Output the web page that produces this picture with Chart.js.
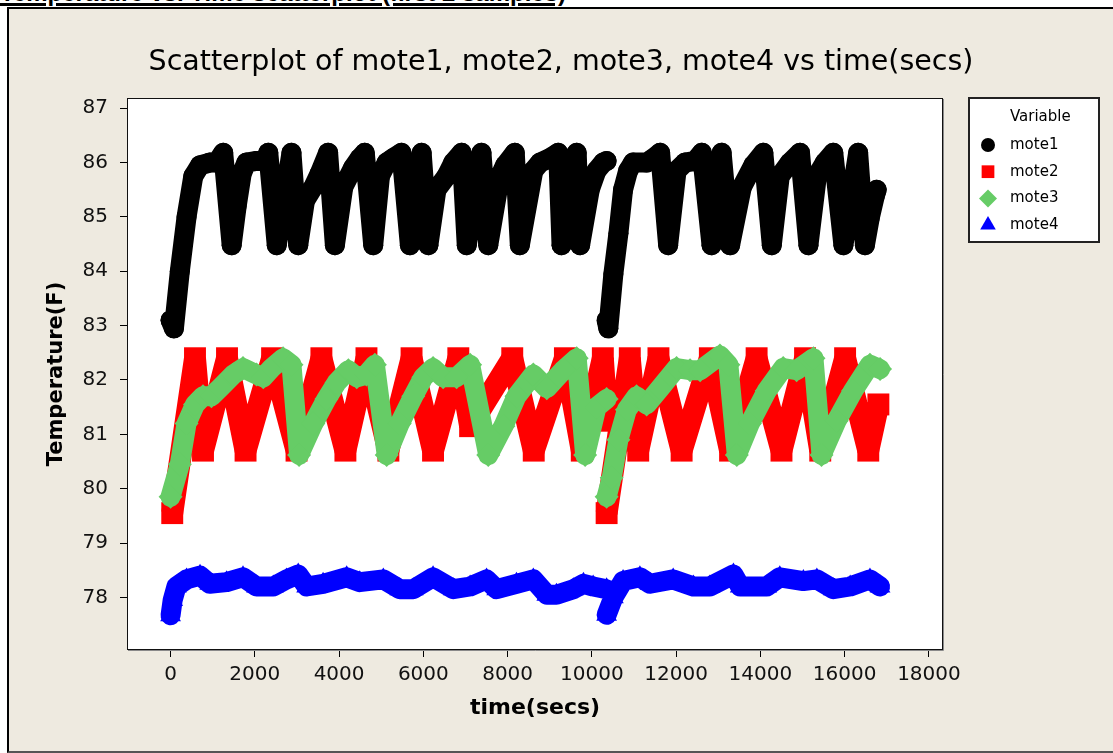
<!DOCTYPE html>
<html>
<head>
<meta charset="utf-8">
<script src="https://cdn.jsdelivr.net/npm/chart.js@4.4.1/dist/chart.umd.min.js"></script>
<style>
  html, body { margin: 0; padding: 0; background: #fff; overflow: hidden; }
  #header {
    position: absolute; left: 0; top: -19px; white-space: nowrap;
    font: bold 24px "Liberation Sans", Arial, sans-serif; line-height: 24px; color: #000;
    text-decoration: underline; text-decoration-thickness: 3px; text-underline-offset: 2px;
  }
  #panel {
    position: absolute; left: 7px; top: 7px; width: 1106px; height: 742px;
    background: #EEEAE0; border-left: 2px solid #000; border-top: 2px solid #000;
    border-bottom: 2px solid #555;
  }
  #wrap { position: absolute; left: 0; top: 0; width: 1104px; height: 742px; }
</style>
</head>
<body>
<div id="header">Temperature vs. Time scatterplot (first 2 samples)</div>
<div id="panel"><div id="wrap"><canvas id="chart" width="1104" height="742"></canvas></div></div>
<script>
// [time in secs, temperature F]; two runs per mote
var mote1Run1 = [[0,83.1],[80,82.95],[220,84.0],[380,85.0],[540,85.75],[700,85.95],[930,86.0],[1090,86.0],[1250,86.18],[1450,84.48],[1570,85.2],[1690,85.8],[1800,86.0],[2040,86.03],[2240,86.03],[2320,86.18],[2520,84.48],[2870,86.18],[3030,84.48],[3190,85.3],[3390,85.55],[3540,85.8],[3740,86.18],[3900,84.48],[4100,85.55],[4330,85.9],[4490,86.08],[4610,86.18],[4810,84.48],[4970,85.75],[5130,86.0],[5280,86.08],[5480,86.18],[5680,84.48],[5960,86.18],[6120,84.48],[6310,85.5],[6550,85.75],[6710,86.0],[6910,86.18],[7030,84.48],[7380,86.18],[7540,84.48],[7820,85.75],[7940,85.95],[8170,86.18],[8290,84.48],[8610,85.85],[8770,86.0],[9000,86.08],[9200,86.18],[9280,84.48],[9640,86.18],[9720,84.48],[9950,85.5],[10110,85.85],[10270,86.0],[10350,86.03]];
var mote1Run2 = [[10350,83.1],[10390,82.95],[10510,83.95],[10630,84.7],[10740,85.5],[10860,85.85],[10980,86.0],[11300,86.0],[11460,86.08],[11620,86.18],[11810,84.48],[12010,85.85],[12210,86.0],[12450,86.03],[12610,86.18],[12840,84.48],[13080,86.18],[13280,84.48],[13560,85.55],[13830,85.95],[14070,86.18],[14270,84.48],[14460,85.75],[14700,86.0],[14940,86.18],[15140,84.48],[15340,85.75],[15530,86.0],[15730,86.18],[15970,84.48],[16320,86.18],[16480,84.48],[16600,85.0],[16720,85.4],[16760,85.5]];

var mote2Run1 = [[40,79.55],[580,82.4],[770,80.7],[1340,82.4],[1780,80.7],[2410,82.4],[2990,80.7],[3580,82.4],[4150,80.7],[4650,82.4],[5170,80.7],[5720,82.4],[6230,80.7],[6830,82.4],[7110,81.15],[8110,82.4],[8620,80.7],[9360,82.4],[9760,80.7],[10260,82.4],[10360,81.25]];
var mote2Run2 = [[10350,79.55],[10900,82.4],[11100,80.7],[11580,82.4],[12130,80.7],[12800,82.4],[13280,80.7],[13910,82.4],[14500,80.7],[15060,82.4],[15420,80.7],[16010,82.4],[16560,80.7],[16800,81.55]];

var mote3Run1 = [[0,79.85],[220,80.45],[380,81.2],[580,81.55],[770,81.7],[970,81.7],[1170,81.85],[1490,82.1],[1720,82.22],[2040,82.1],[2200,82.05],[2400,82.22],[2670,82.4],[2870,82.28],[3050,80.62],[3390,81.2],[3700,81.65],[3940,81.95],[4220,82.18],[4420,82.05],[4650,82.1],[4850,82.28],[5130,80.62],[5440,81.2],[5760,81.7],[6000,82.05],[6230,82.22],[6470,82.05],[6790,82.05],[7110,82.28],[7540,80.62],[7900,81.15],[8210,81.7],[8610,82.1],[8930,81.85],[9320,82.18],[9640,82.4],[9840,80.62],[10110,81.5],[10350,81.65]];
var mote3Run2 = [[10350,79.85],[10470,80.2],[10630,80.9],[10830,81.45],[11060,81.7],[11300,81.55],[11620,81.85],[12010,82.22],[12330,82.18],[12570,82.18],[13040,82.45],[13240,82.28],[13440,80.62],[13750,81.2],[14150,81.8],[14540,82.22],[14860,82.18],[15260,82.4],[15450,80.62],[15810,81.25],[16200,81.8],[16600,82.28],[16840,82.2]];

var mote4Run1 = [[0,77.67],[50,77.95],[140,78.2],[380,78.33],[700,78.4],[930,78.25],[1330,78.28],[1720,78.37],[2040,78.2],[2440,78.2],[2750,78.33],[3030,78.42],[3230,78.2],[3620,78.25],[4180,78.37],[4490,78.28],[5050,78.33],[5440,78.15],[5760,78.15],[6230,78.37],[6710,78.15],[7110,78.2],[7500,78.33],[7740,78.15],[8210,78.25],[8610,78.33],[8930,78.05],[9160,78.05],[9560,78.15],[9800,78.25],[10030,78.2],[10350,78.15]];
var mote4Run2 = [[10350,77.68],[10510,78.0],[10740,78.3],[11140,78.37],[11380,78.25],[11930,78.33],[12410,78.2],[12800,78.2],[13360,78.42],[13520,78.2],[14150,78.2],[14460,78.37],[15020,78.3],[15340,78.33],[15730,78.15],[16130,78.2],[16600,78.33],[16840,78.2]];

var moteNames = ["mote1", "mote2", "mote3", "mote4"];
var moteColors = ["#000000", "#FF0000", "#66CC66", "#0000FF"];
var xTicks = [0, 2000, 4000, 6000, 8000, 10000, 12000, 14000, 16000, 18000];
var yTicks = [78, 79, 80, 81, 82, 83, 84, 85, 86, 87];

// both runs in one dataset, with a null point so the line breaks between them
function joinRuns(a, b) {
    var out = a.map(function (p) { return { x: p[0], y: p[1] }; });
    out.push({ x: a[a.length - 1][0], y: null });
    return out.concat(b.map(function (p) { return { x: p[0], y: p[1] }; }));
}

var legendRadius = [7, 9, 9, 9];

// white plot box with a dark frame
var plotFrame = {
    id: 'plotFrame',
    beforeDraw: function (chart) {
        var a = chart.chartArea, ctx = chart.ctx;
        ctx.save();
        ctx.fillStyle = '#fff';
        ctx.fillRect(a.left, a.top, a.right - a.left, a.bottom - a.top);
        ctx.restore();
    },
    afterDatasetsDraw: function (chart) {
        var a = chart.chartArea, ctx = chart.ctx;
        ctx.save();
        ctx.strokeStyle = '#111';
        ctx.lineWidth = 1;
        ctx.strokeRect(a.left - 0.5, a.top - 0.5, a.right - a.left + 1, a.bottom - a.top + 1);
        ctx.strokeStyle = '#8a8a8a';
        ctx.beginPath();
        ctx.moveTo(a.right + 1.5, a.top);
        ctx.lineTo(a.right + 1.5, a.bottom + 1.5);
        ctx.lineTo(a.left, a.bottom + 1.5);
        ctx.stroke();
        ctx.restore();
    }
};

// Minitab style boxed legend at the right of the plot
var boxLegend = {
    id: 'boxLegend',
    afterDraw: function (chart) {
        var ctx = chart.ctx, a = chart.chartArea;
        var x = a.right + 27, y = a.top - 1, w = 130, h = 144;
        ctx.save();
        ctx.fillStyle = '#fff';
        ctx.fillRect(x, y, w, h);
        ctx.strokeStyle = '#222';
        ctx.lineWidth = 2;
        ctx.strokeRect(x, y, w, h);
        ctx.font = '15px "DejaVu Sans"';
        ctx.textBaseline = 'middle';
        ctx.textAlign = 'left';
        ctx.fillStyle = '#000';
        ctx.fillText('Variable', x + 41, y + 19);
        chart.data.datasets.forEach(function (ds, i) {
            var cy = y + 47 + i * 26.7;
            ctx.fillStyle = ds.backgroundColor;
            ctx.strokeStyle = ds.borderColor;
            Chart.helpers.drawPoint(ctx, { pointStyle: ds.pointStyle, radius: legendRadius[i], borderWidth: 0, rotation: 0 }, x + 19, cy);
            ctx.fillStyle = '#000';
            ctx.fillText(ds.label, x + 41, cy);
        });
        ctx.restore();
    }
};

var tickFont = { family: 'DejaVu Sans', size: 20 };

function moteSet(i, run1, run2, width, radius, style, join, cap, order) {
    return {
        label: moteNames[i], data: joinRuns(run1, run2),
        borderColor: moteColors[i], backgroundColor: moteColors[i],
        showLine: true, borderWidth: width, borderJoinStyle: join, borderCapStyle: cap,
        pointRadius: radius, pointStyle: style, pointBorderWidth: 0, pointHoverRadius: 0,
        order: order
    };
}

new Chart(document.getElementById('chart'), {
    type: 'scatter',
    data: {
        datasets: [
            moteSet(0, mote1Run1, mote1Run2, 20, 10, 'circle', 'round', 'round', 0),
            moteSet(1, mote2Run1, mote2Run2, 22, 15.5, 'rect', 'bevel', 'butt', 2),
            moteSet(2, mote3Run1, mote3Run2, 20, 12, 'rectRot', 'round', 'round', 1),
            moteSet(3, mote4Run1, mote4Run2, 20, 12, 'triangle', 'round', 'round', 3)
        ]
    },
    options: {
        responsive: false,
        animation: false,
        events: [],
        spanGaps: false,
        elements: { line: { tension: 0 } },
        plugins: {
            legend: { display: false },
            tooltip: { enabled: false },
            title: {
                display: true,
                text: 'Scatterplot of mote1, mote2, mote3, mote4 vs time(secs)',
                color: '#000',
                font: { family: 'DejaVu Sans', size: 28.5, weight: 'normal' },
                padding: { top: 36, bottom: 19.8 }
            }
        },
        scales: {
            x: {
                type: 'linear',
                min: -1010,
                max: 18310,
                afterBuildTicks: function (s) { s.ticks = xTicks.map(function (v) { return { value: v }; }); },
                afterFit: function (s) { s.height = 102; },
                border: { display: false },
                grid: { drawOnChartArea: false, drawTicks: true, tickLength: 8, color: '#000' },
                ticks: { color: '#111', font: tickFont, padding: 6, maxRotation: 0, autoSkip: false,
                         callback: function (v) { return String(v); } },
                title: { display: true, text: 'time(secs)', color: '#000',
                         font: { family: 'DejaVu Sans', size: 22, weight: 'bold' }, padding: { top: 0, bottom: 30 } }
            },
            y: {
                type: 'linear',
                min: 77.05,
                max: 87.17,
                afterBuildTicks: function (s) { s.ticks = yTicks.map(function (v) { return { value: v }; }); },
                afterFit: function (s) { s.width = 119; },
                border: { display: false },
                grid: { drawOnChartArea: false, drawTicks: true, tickLength: 8, color: '#000' },
                ticks: { color: '#111', font: tickFont, padding: 12,
                         callback: function (v) { return String(v); } },
                title: { display: true, text: 'Temperature(F)', color: '#000',
                         font: { family: 'DejaVu Sans', size: 21, weight: 'bold' }, padding: { top: 35, bottom: 0 } }
            },
            // empty right-hand box that keeps room for the boxed legend
            legendRoom: {
                type: 'linear',
                position: 'right',
                afterFit: function (s) { s.width = 171; },
                border: { display: false },
                grid: { display: false },
                ticks: { display: false }
            }
        }
    },
    plugins: [plotFrame, boxLegend]
});
</script>
</body>
</html>
